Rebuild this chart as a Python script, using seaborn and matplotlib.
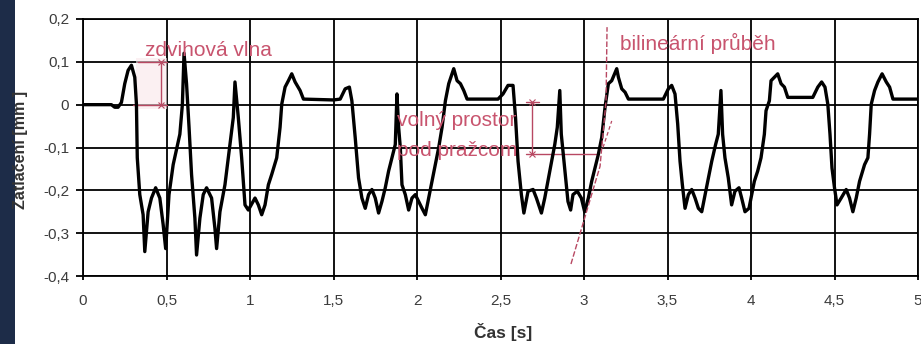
import numpy as np
import pandas as pd
import matplotlib
matplotlib.use("Agg")
import matplotlib.pyplot as plt
import seaborn as sns
from matplotlib.patches import Rectangle

# ---------------- data ----------------
time_s = [
    0.0, 0.17, 0.19, 0.21, 0.23, 0.25, 0.27, 0.29, 0.31, 0.32, 0.325, 0.34, 0.36, 0.37, 0.39, 0.41,
    0.435, 0.46, 0.48, 0.495, 0.515, 0.54, 0.58, 0.595, 0.605, 0.62, 0.635, 0.65, 0.67, 0.68,
    0.70, 0.72, 0.74, 0.77, 0.79, 0.80, 0.82, 0.85, 0.88, 0.90, 0.91, 0.93, 0.95, 0.97, 0.99,
    1.03, 1.05, 1.07, 1.09, 1.11, 1.13, 1.16, 1.18, 1.19, 1.21, 1.23, 1.25, 1.27, 1.30, 1.32,
    1.50, 1.54, 1.57, 1.595, 1.61, 1.63, 1.65, 1.67, 1.69, 1.71, 1.73, 1.75, 1.77, 1.79, 1.81,
    1.83, 1.85, 1.87, 1.88, 1.89, 1.90, 1.91, 1.93, 1.95, 1.97, 1.99,
    2.03, 2.05, 2.07, 2.09, 2.11, 2.13, 2.15, 2.17, 2.19, 2.21, 2.22, 2.24, 2.26, 2.28, 2.30,
    2.485, 2.515, 2.545, 2.575, 2.59, 2.605, 2.625, 2.64, 2.665, 2.695, 2.715, 2.745, 2.765,
    2.795, 2.825, 2.84, 2.855, 2.864, 2.884, 2.904, 2.92, 2.934, 2.96, 2.984, 3.004,
    3.026, 3.046, 3.066, 3.086, 3.106, 3.126, 3.146, 3.166, 3.196, 3.206, 3.226, 3.246, 3.266,
    3.475, 3.505, 3.525, 3.545, 3.561, 3.575, 3.589, 3.605, 3.625, 3.645, 3.665, 3.685, 3.705,
    3.725, 3.745, 3.765, 3.788, 3.804, 3.82, 3.83, 3.844, 3.864, 3.884, 3.904, 3.928, 3.944,
    3.964, 3.988,
    4.02, 4.04, 4.06, 4.08, 4.09, 4.11, 4.12, 4.14, 4.16, 4.18, 4.20, 4.22, 4.37, 4.40, 4.423,
    4.443, 4.46, 4.473, 4.485, 4.50, 4.515, 4.54, 4.57, 4.59, 4.61, 4.63, 4.65, 4.68, 4.70,
    4.71, 4.72, 4.74, 4.76, 4.785, 4.81, 4.83, 4.85, 5.0,
]
deflection_mm = [
    0.0, 0.0, -0.006, -0.006, 0.005, 0.049, 0.08, 0.092, 0.064, 0.001, -0.124, -0.21, -0.257, -0.343, -0.25, -0.218,
    -0.194, -0.218, -0.28, -0.336, -0.21, -0.14, -0.069, 0.0, 0.12, 0.049, -0.053, -0.163, -0.265, -0.351,
    -0.265, -0.21, -0.194, -0.218, -0.289, -0.336, -0.25, -0.187, -0.093, -0.03, 0.053, -0.03, -0.124, -0.234, -0.246,
    -0.218, -0.234, -0.257, -0.234, -0.187, -0.163, -0.124, -0.053, 0.001, 0.041, 0.056, 0.072, 0.053, 0.033, 0.013,
    0.011, 0.013, 0.037, 0.041, 0.009, -0.077, -0.171, -0.218, -0.242, -0.21, -0.198, -0.218, -0.253, -0.226, -0.194,
    -0.155, -0.124, -0.093, 0.025, -0.053, -0.10, -0.187, -0.21, -0.246, -0.218, -0.21,
    -0.242, -0.257, -0.218, -0.179, -0.14, -0.10, -0.053, 0.009, 0.049, 0.072, 0.084, 0.056, 0.049, 0.033, 0.013,
    0.013, 0.025, 0.045, 0.045, -0.03, -0.132, -0.21, -0.253, -0.202, -0.198, -0.218, -0.253, -0.218,
    -0.155, -0.093, -0.053, 0.033, -0.069, -0.148, -0.226, -0.246, -0.21, -0.202, -0.218, -0.25,
    -0.218, -0.179, -0.148, -0.116, -0.077, -0.006, 0.049, 0.056, 0.084, 0.064, 0.037, 0.029, 0.013,
    0.013, 0.037, 0.045, 0.025, -0.045, -0.132, -0.187, -0.242, -0.21, -0.198, -0.218, -0.242, -0.25,
    -0.21, -0.171, -0.132, -0.093, -0.069, 0.033, -0.069, -0.124, -0.171, -0.234, -0.202, -0.194, -0.218,
    -0.25, -0.242,
    -0.179, -0.155, -0.124, -0.069, -0.014, 0.009, 0.056, 0.064, 0.072, 0.049, 0.041, 0.017, 0.017, 0.041, 0.053,
    0.041, 0.001, -0.069, -0.148, -0.194, -0.234, -0.218, -0.198, -0.218, -0.25, -0.218, -0.179, -0.14, -0.124,
    -0.069, 0.001, 0.033, 0.053, 0.072, 0.053, 0.041, 0.013, 0.013,
]

x_ticks = [0, 0.5, 1, 1.5, 2, 2.5, 3, 3.5, 4, 4.5, 5]
x_tick_labels = ["0", "0,5", "1", "1,5", "2", "2,5", "3", "3,5", "4", "4,5", "5"]
y_ticks = [-0.4, -0.3, -0.2, -0.1, 0, 0.1, 0.2]
y_tick_labels = ["-0,4", "-0,3", "-0,2", "-0,1", "0", "0,1", "0,2"]

x_label = "Čas [s]"
y_label = "Zatlačení [mm ]"

# annotation texts and anchor points
ann_lift_text = "zdvihová vlna"
ann_lift_pos = (0.37, 0.127)
ann_lift_dim_x = 0.467
ann_lift_dim_y = [0.0, 0.1]
ann_lift_h_top = ([0.33, 0.50], [0.1, 0.1])
ann_lift_h_bot = ([0.30, 0.50], [0.0, 0.0])

ann_gap_lines = ["volný prostor", "pod pražcom"]
ann_gap_pos = [(1.88, -0.038), (1.88, -0.108)]
ann_gap_dim_x = 2.69
ann_gap_dim_y = [0.007, -0.115]
ann_gap_h_top = ([2.65, 2.73], [0.007, 0.007])
ann_gap_h_bot = ([2.65, 3.07], [-0.115, -0.115])

ann_bil_text = "bilineární průběh"
ann_bil_pos = (3.216, 0.144)
ann_bil_x = [2.922, 3.096, 3.132, 3.138]
ann_bil_y = [-0.372, -0.144, 0.009, 0.181]
ann_bil2_x = [3.114, 3.166]
ann_bil2_y = [-0.10, -0.038]

# ---------------- figure ----------------
sns.set_theme(style="white")
plt.rcParams['font.family'] = ['Liberation Sans', 'DejaVu Sans']

W, H = 921, 344
fig = plt.figure(figsize=(W / 100, H / 100), dpi=100)
fig.patch.set_facecolor("white")
fig.add_artist(Rectangle((0, 0), 15 / W, 1, transform=fig.transFigure,
                         facecolor="#1d2c48", edgecolor="none", zorder=-5))

ax = fig.add_axes([83 / W, 1 - 276 / H, 835 / W, 257 / H])
ax.set_facecolor("white")

df = pd.DataFrame({"t": time_s, "z": deflection_mm})
sns.lineplot(data=df, x="t", y="z", ax=ax, color="black", linewidth=2.4,
             sort=False, estimator=None, zorder=5)

ax.set_xlim(0, 5)
ax.set_ylim(-0.4, 0.2)
ax.set_xticks(x_ticks)
ax.set_xticklabels(x_tick_labels)
ax.set_yticks(y_ticks)
ax.set_yticklabels(y_tick_labels)
ax.grid(True, color="black", linewidth=1.3)
for s in ax.spines.values():
    s.set_color("black")
    s.set_linewidth(1.3)
ax.tick_params(axis="x", direction="out", length=3, width=1.3, color="black",
               labelsize=11, labelcolor="#3c3c3c", pad=10)
ax.tick_params(axis="y", direction="out", length=5, width=1.3, color="black",
               labelsize=11, labelcolor="#3c3c3c", pad=5)
ax.tick_params(bottom=True, left=True)

ax.set_xlabel(x_label, fontsize=12.5, fontweight="bold", color="#333333")
ax.set_ylabel(y_label, fontsize=11.5, fontweight="bold", color="#333333")
ax.xaxis.set_label_coords((503 - 83) / 835, (276 - 323) / 257)
ax.yaxis.set_label_coords((28 - 83) / 835, (276 - 150) / 257)

# ---------------- annotations ----------------
ac = "#c8546e"
lc = "#b84862"
ax.fill_between([0.32, 0.50], [-0.01, -0.01], [0.11, 0.11], color="#f9e6ea", alpha=0.6, zorder=1, lw=0)
ax.plot(ann_lift_h_top[0], ann_lift_h_top[1], color=lc, lw=1.0, zorder=4)
ax.plot(ann_lift_h_bot[0], ann_lift_h_bot[1], color=lc, lw=1.0, zorder=4)
ax.plot([ann_lift_dim_x] * 2, ann_lift_dim_y, color=lc, lw=1.0, marker="x", ms=5, mew=0.8, zorder=4)
ax.text(*ann_lift_pos, ann_lift_text, color=ac, fontsize=15, ha="left", va="center", zorder=6)

ax.plot(ann_gap_h_top[0], ann_gap_h_top[1], color=lc, lw=1.0, zorder=4)
ax.plot(ann_gap_h_bot[0], ann_gap_h_bot[1], color=lc, lw=1.0, zorder=4)
ax.plot([ann_gap_dim_x] * 2, ann_gap_dim_y, color=lc, lw=1.0, marker="x", ms=5, mew=0.8, zorder=4)
for txt, pos in zip(ann_gap_lines, ann_gap_pos):
    ax.text(*pos, txt, color=ac, fontsize=15, ha="left", va="center", zorder=6)

ax.plot(ann_bil_x, ann_bil_y, color=lc, lw=1.0, ls=(0, (4, 1.5)), zorder=6)
ax.plot(ann_bil2_x, ann_bil2_y, color=lc, lw=0.9, ls=(0, (3, 2)), zorder=6)
ax.text(*ann_bil_pos, ann_bil_text, color=ac, fontsize=15, ha="left", va="center", zorder=6)

fig.savefig("out.png", dpi=100, facecolor=fig.get_facecolor())
